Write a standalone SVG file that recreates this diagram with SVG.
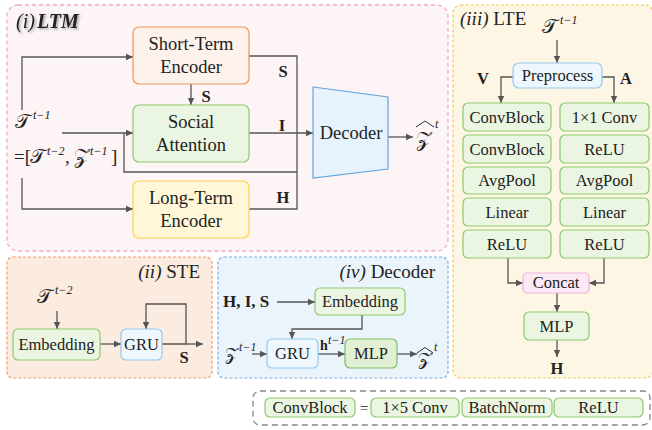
<svg xmlns="http://www.w3.org/2000/svg" width="652" height="430" viewBox="0 0 652 430">
<style>
text{font-family:"Liberation Serif","Times New Roman",serif;fill:#222}
.t{font-size:18.5px;text-anchor:middle}
.s{font-size:16.5px;text-anchor:middle}
.b{font-weight:bold}
.it{font-style:italic}
.m{font-size:20px}
.sup{font-size:12px;font-style:italic}
.ln{fill:none;stroke:#555;stroke-width:1.3}
.hat{fill:none;stroke:#333;stroke-width:1}
.g{fill:#ebf6e2;stroke:#8dc96f;stroke-width:1.2}
.bl{fill:#eef7fd;stroke:#93c9ef;stroke-width:1.2}
</style>
<defs>
<marker id="ah" markerWidth="8" markerHeight="8" refX="7" refY="4" orient="auto" markerUnits="userSpaceOnUse">
<path d="M0,0.8 L7,4 L0,7.2 Z" fill="#555"/>
</marker>
<filter id="shadow" x="-20%" y="-30%" width="140%" height="160%">
<feDropShadow dx="1.5" dy="1.5" stdDeviation="1.2" flood-color="#000" flood-opacity="0.35"/>
</filter>
</defs>

<!-- panels -->
<g id="panel-ltm">
<rect x="7" y="5" width="441" height="246" rx="11" fill="#fdf4f5" stroke="#f4a9c2" stroke-width="1.3" stroke-dasharray="4,3"/>
<text x="16" y="28" font-size="20" filter="url(#shadow)"><tspan class="it">(i)</tspan><tspan class="it b" dx="2">LTM</tspan></text>
</g>
<g id="panel-ste">
<rect x="7" y="257" width="205" height="121" rx="6" fill="#fcebdf" stroke="#ef9d6a" stroke-width="1.2" stroke-dasharray="3,2"/>
<text x="200" y="278" font-size="19" text-anchor="end"><tspan class="it">(ii)</tspan> STE</text>
</g>
<g id="panel-dec">
<rect x="218" y="257" width="230" height="121" rx="6" fill="#ebf3fb" stroke="#79afe0" stroke-width="1.2" stroke-dasharray="3,2"/>
<text x="435" y="278" font-size="19" text-anchor="end"><tspan class="it">(iv)</tspan> Decoder</text>
</g>
<g id="panel-lte">
<rect x="453" y="5" width="200" height="373" rx="8" fill="#fdf6e5" stroke="#f3c95a" stroke-width="1.2" stroke-dasharray="3,2"/>
<text x="460" y="25" font-size="19"><tspan class="it">(iii)</tspan> LTE</text>
</g>

<!-- connectors -->
<g id="connectors">
<!-- LTM -->
<polyline class="ln" points="22,110 22,57 133,57" marker-end="url(#ah)"/>
<polyline class="ln" points="22,178 22,209 133,209" marker-end="url(#ah)"/>
<line class="ln" x1="62" y1="133" x2="133" y2="133" marker-end="url(#ah)"/>
<polyline class="ln" points="124,133 124,172 297,172"/>
<line class="ln" x1="191" y1="84" x2="191" y2="105" marker-end="url(#ah)"/>
<polyline class="ln" points="249,56 297,56 297,209 249,209"/>
<line class="ln" x1="249" y1="133" x2="313" y2="133" marker-end="url(#ah)"/>
<line class="ln" x1="388" y1="137" x2="413" y2="137" marker-end="url(#ah)"/>
<!-- STE -->
<line class="ln" x1="57" y1="311" x2="57" y2="329" marker-end="url(#ah)"/>
<line class="ln" x1="100" y1="344" x2="121" y2="344" marker-end="url(#ah)"/>
<polyline class="ln" points="162,344 186,344 186,304 146,304 146,329" marker-end="url(#ah)"/>
<line class="ln" x1="186" y1="344" x2="203" y2="344" marker-end="url(#ah)"/>
<!-- Decoder (iv) -->
<line class="ln" x1="277" y1="302" x2="315" y2="302" marker-end="url(#ah)"/>
<polyline class="ln" points="362,315 362,329 292,329 292,339" marker-end="url(#ah)"/>
<line class="ln" x1="252" y1="354" x2="267" y2="354" marker-end="url(#ah)"/>
<line class="ln" x1="318" y1="354" x2="345" y2="354" marker-end="url(#ah)"/>
<line class="ln" x1="397" y1="354" x2="417" y2="354" marker-end="url(#ah)"/>
<!-- LTE -->
<line class="ln" x1="557" y1="40" x2="557" y2="63" marker-end="url(#ah)"/>
<polyline class="ln" points="513,77 501,77 501,103" marker-end="url(#ah)"/>
<polyline class="ln" points="602,77 614,77 614,103" marker-end="url(#ah)"/>
<polyline class="ln" points="508,258 508,283 523,283" marker-end="url(#ah)"/>
<polyline class="ln" points="604,258 604,283 589,283" marker-end="url(#ah)"/>
<line class="ln" x1="557" y1="293" x2="557" y2="312" marker-end="url(#ah)"/>
<line class="ln" x1="557" y1="340" x2="557" y2="357" marker-end="url(#ah)"/>
</g>

<!-- LTM nodes -->
<g id="short-term-encoder">
<rect x="133" y="27" width="116" height="57" rx="6" fill="#fdf2ec" stroke="#ef955f" stroke-width="1.2"/>
<text class="t" x="191" y="50">Short-Term</text>
<text class="t" x="191" y="73">Encoder</text>
</g>
<g id="social-attention">
<rect x="133" y="105" width="116" height="57" rx="6" class="g"/>
<text class="t" x="191" y="128">Social</text>
<text class="t" x="191" y="151">Attention</text>
</g>
<g id="long-term-encoder">
<rect x="133" y="181" width="116" height="57" rx="6" fill="#fff7d8" stroke="#fcd34b" stroke-width="1.2"/>
<text class="t" x="191" y="204">Long-Term</text>
<text class="t" x="191" y="227">Encoder</text>
</g>
<g id="decoder">
<polygon points="313,87 388,97 388,169 313,178" fill="#e7f3fc" stroke="#62a5dd" stroke-width="1.2"/>
<text class="t" x="351" y="139">Decoder</text>
</g>
<g id="ltm-labels">
<text class="s b" x="206" y="102" font-size="17">S</text>
<text class="s b" x="283" y="77" font-size="17">S</text>
<text class="s b" x="282" y="131" font-size="17">I</text>
<text class="s b" x="283" y="203" font-size="17">H</text>
<text x="15" y="128" class="m">𝒯</text><text x="33" y="119" class="sup">t−1</text>
<text x="14" y="163" font-size="19">=[</text><text x="30" y="163" class="m">𝒯</text><text x="47" y="155" class="sup">t−2</text><text x="65" y="163" font-size="19">,</text><text x="74" y="163" class="m">𝒵</text><text x="90" y="155" class="sup">t−1</text><text x="111" y="163" font-size="19">]</text>
<text x="416" y="146" class="m">𝒵</text><polyline class="hat" points="416,127 425,121 434,127"/><text x="435" y="128" class="sup">t</text>
</g>

<!-- STE nodes -->
<g id="ste-input">
<text x="37" y="303" class="m">𝒯</text><text x="55" y="294" class="sup">t−2</text>
</g>
<g id="ste-embedding">
<rect x="13" y="329" width="87" height="31" rx="5" class="g"/>
<text class="s" x="56.5" y="350">Embedding</text>
</g>
<g id="ste-gru">
<rect x="121" y="329" width="41" height="31" rx="5" class="bl"/>
<text class="s" x="141.5" y="350">GRU</text>
</g>
<text class="s b" x="184" y="363" font-size="17">S</text>

<!-- Decoder (iv) nodes -->
<g id="dec-input">
<text x="223" y="307" font-size="17" class="b">H, I, S</text>
</g>
<g id="dec-embedding">
<rect x="315" y="288" width="90" height="27" rx="5" class="g"/>
<text class="s" x="360" y="307">Embedding</text>
</g>
<g id="dec-gru">
<rect x="267" y="339" width="51" height="29" rx="5" class="bl"/>
<text class="s" x="292.5" y="359">GRU</text>
</g>
<g id="dec-mlp">
<rect x="345" y="339" width="52" height="29" rx="5" fill="#e1f0d5" stroke="#7fbf60" stroke-width="1.2"/>
<text class="s" x="371" y="359">MLP</text>
</g>
<g id="dec-labels">
<text x="225" y="360" font-size="17">𝒵</text><text x="239" y="351" class="sup" font-size="10">t−1</text>
<text x="320" y="350" font-size="14" class="b">h</text><text x="328" y="344" class="sup" font-size="10">t−1</text>
<text x="418" y="365" font-size="18">𝒵</text><polyline class="hat" points="417,353 425,347.5 433,353"/><text x="434" y="351" class="sup" font-size="10">t</text>
</g>

<!-- LTE nodes -->
<g id="lte-input">
<text x="542" y="33" class="m">𝒯</text><text x="560" y="24" class="sup">t−1</text>
</g>
<g id="preprocess">
<rect x="513" y="63" width="89" height="25" rx="6" class="bl"/>
<text class="s" x="557.5" y="81">Preprocess</text>
</g>
<text x="483" y="84" font-size="17" class="s b">V</text>
<text x="626" y="84" font-size="17" class="s b">A</text>
<g id="lte-v-convblock1"><rect x="463" y="103" width="88" height="28" rx="5" class="g"/><text class="s" x="507" y="123">ConvBlock</text></g>
<g id="lte-v-convblock2"><rect x="463" y="135" width="88" height="28" rx="5" class="g"/><text class="s" x="507" y="155">ConvBlock</text></g>
<g id="lte-v-avgpool"><rect x="463" y="167" width="88" height="27" rx="5" class="g"/><text class="s" x="507" y="186">AvgPool</text></g>
<g id="lte-v-linear"><rect x="463" y="198" width="88" height="28" rx="5" class="g"/><text class="s" x="507" y="218">Linear</text></g>
<g id="lte-v-relu"><rect x="463" y="230" width="88" height="28" rx="5" class="g"/><text class="s" x="507" y="250">ReLU</text></g>
<g id="lte-a-conv"><rect x="560" y="103" width="89" height="28" rx="5" class="g"/><text class="s" x="604.5" y="123">1×1 Conv</text></g>
<g id="lte-a-relu1"><rect x="560" y="135" width="89" height="28" rx="5" class="g"/><text class="s" x="604.5" y="155">ReLU</text></g>
<g id="lte-a-avgpool"><rect x="560" y="167" width="89" height="27" rx="5" class="g"/><text class="s" x="604.5" y="186">AvgPool</text></g>
<g id="lte-a-linear"><rect x="560" y="198" width="89" height="28" rx="5" class="g"/><text class="s" x="604.5" y="218">Linear</text></g>
<g id="lte-a-relu2"><rect x="560" y="230" width="89" height="28" rx="5" class="g"/><text class="s" x="604.5" y="250">ReLU</text></g>
<g id="concat"><rect x="523" y="273" width="66" height="20" rx="4" fill="#fbe9f5" stroke="#f1b4da" stroke-width="1.2"/><text class="s" x="556" y="288" font-size="15">Concat</text></g>
<g id="lte-mlp"><rect x="524" y="312" width="65" height="28" rx="5" class="g"/><text class="s" x="556.5" y="332">MLP</text></g>
<text x="557" y="374" font-size="17" class="s b">H</text>

<!-- Legend -->
<g id="legend">
<rect x="253" y="391" width="397" height="34" rx="7" fill="none" stroke="#888" stroke-width="1.3" stroke-dasharray="6,4"/>
<rect x="265" y="398" width="90" height="19" rx="5" class="g"/><text class="s" x="310" y="413" font-size="15">ConvBlock</text>
<text x="360" y="413" font-size="15">=</text>
<rect x="371" y="398" width="88" height="19" rx="5" class="g"/><text class="s" x="415" y="413" font-size="15">1×5 Conv</text>
<rect x="462" y="398" width="90" height="19" rx="5" class="g"/><text class="s" x="507" y="413" font-size="15">BatchNorm</text>
<rect x="554" y="398" width="89" height="19" rx="5" class="g"/><text class="s" x="598.5" y="413" font-size="15">ReLU</text>
</g>
</svg>
